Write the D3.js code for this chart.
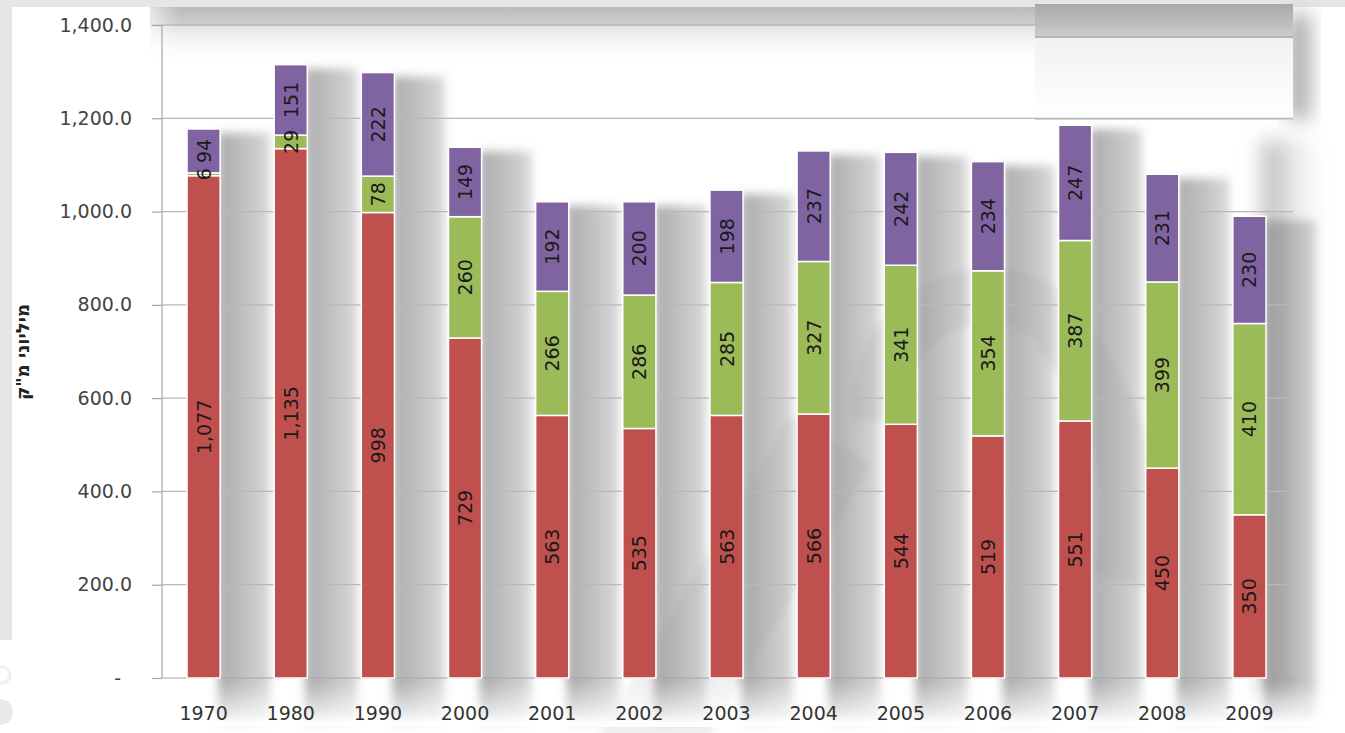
<!DOCTYPE html>
<html>
<head>
<meta charset="utf-8">
<script src="https://cdn.jsdelivr.net/npm/d3@7"></script>
<style>
  html, body { margin: 0; padding: 0; background: #ffffff; }
  svg { display: block; }
</style>
</head>
<body>
<svg id="chart" width="1345" height="733"></svg>
<script>
// Water sources, million cubic metres per year
const years  = ["1970","1980","1990","2000","2001","2002","2003","2004","2005","2006","2007","2008","2009"];
const fresh  = [1077, 1135, 998, 729, 563, 535, 563, 566, 544, 519, 551, 450, 350];
const marginal = [6, 29, 78, 260, 266, 286, 285, 327, 341, 354, 387, 399, 410];
const brackish = [94, 151, 222, 149, 192, 200, 198, 237, 242, 234, 247, 231, 230];
const yTicks = [0, 200, 400, 600, 800, 1000, 1200, 1400];
const yTitle = "מיליוני מ\"ק";

const seriesKeys = ["fresh", "marginal", "brackish"];
const seriesColor = { fresh: "#c0504d", marginal: "#9bbb59", brackish: "#8064a2" };

const rows = years.map((y, i) => ({ year: y, fresh: fresh[i], marginal: marginal[i], brackish: brackish[i] }));
const stacked = d3.stack().keys(seriesKeys)(rows);

const svg = d3.select("#chart");
const W = 1345, H = 733;
const plot = { left: 162, right: 1293, top: 25, bottom: 678 };

const x = d3.scaleBand().domain(years).range([160, 1293]).paddingInner(0.62).paddingOuter(0.31);
const y = d3.scaleLinear().domain([0, 1400]).range([plot.bottom, plot.top]);

const defs = svg.append("defs");
const blur = (id, s) => defs.append("filter").attr("id", id)
  .attr("x", "-50%").attr("y", "-50%").attr("width", "200%").attr("height", "200%")
  .append("feGaussianBlur").attr("stdDeviation", s);
blur("blur5", 5); blur("blur10", 10); blur("blur16", 16); blur("blur3", 3);

const lg = (id, stops, vertical = true) => {
  const g = defs.append("linearGradient").attr("id", id)
    .attr("x1", 0).attr("y1", 0).attr("x2", vertical ? 0 : 1).attr("y2", vertical ? 1 : 0);
  stops.forEach(([o, c, a = 1]) => g.append("stop").attr("offset", o).attr("stop-color", c).attr("stop-opacity", a));
};
lg("topBand", [[0, "#b9b9b9"], [1, "#cfcfcf"]]);
lg("topFade", [[0, "#e0e0e0"], [1, "#ffffff", 0]]);
lg("legHead", [[0, "#a9a9a9"], [1, "#cbcbcb"]]);
lg("legBody", [[0, "#ececec"], [1, "#ffffff"]]);
lg("bandIn", [[0, "#ffffff", 1], [1, "#ffffff", 0]], false);
lg("colShadow", [[0, "#8a8a8a", 0.72], [0.45, "#8a8a8a", 0.55], [1, "#8a8a8a", 0.33]], false);
lg("edgeShadow", [[0, "#9a9a9a", 0.8], [1, "#ffffff", 0]], false);
lg("footFade", [[0, "#ffffff", 0], [1, "#ffffff", 1]]);

// page frame
svg.append("rect").attr("width", W).attr("height", H).attr("fill", "#ffffff");

// soft decorative watermark
const wm = svg.append("g").attr("filter", "url(#blur3)").attr("fill", "none").attr("stroke", "#000").attr("stroke-opacity", 0.06);
wm.append("path").attr("d", "M 640 760 L 830 440").attr("stroke-width", 95);
wm.append("path").attr("d", "M 880 420 C 870 300 1010 260 1060 330 C 1110 400 1150 480 1120 580").attr("stroke-width", 55);

// frame bands along the top and left
svg.append("rect").attr("x", 150).attr("y", 25).attr("width", 885).attr("height", 40).attr("fill", "url(#topFade)");
svg.append("rect").attr("x", 150).attr("y", 7).attr("width", 885).attr("height", 18).attr("fill", "url(#topBand)");
svg.append("line").attr("x1", 150).attr("x2", 1035).attr("y1", 25).attr("y2", 25).attr("stroke", "#c2c2c2").attr("stroke-width", 2);
svg.append("rect").attr("x", 130).attr("y", 7).attr("width", 50).attr("height", 60).attr("fill", "url(#bandIn)");
svg.append("rect").attr("x", 0).attr("y", 0).attr("width", W).attr("height", 7).attr("fill", "#e6e6e6");
svg.append("rect").attr("x", 0).attr("y", 0).attr("width", 12).attr("height", 640).attr("fill", "#e6e6e6");
svg.append("circle").attr("cx", 0).attr("cy", 712).attr("r", 13).attr("fill", "#e8e8e8");
svg.append("circle").attr("cx", 2).attr("cy", 675).attr("r", 8).attr("fill", "none").attr("stroke", "#efefef").attr("stroke-width", 3);

// wide shadow along the right edge of the plot
svg.append("rect").attr("x", 1262).attr("y", 140).attr("width", 70).attr("height", 560)
  .attr("fill", "url(#edgeShadow)").attr("filter", "url(#blur10)");

// shadows cast by each column
const shadow = svg.append("g").attr("filter", "url(#blur5)");
stacked[stacked.length - 1].forEach((d, i) => {
  const bx = x(years[i]), bw = x.bandwidth();
  shadow.append("rect")
    .attr("x", bx + bw - 2).attr("y", y(d[1]) + 4)
    .attr("width", x.step() - bw - 2).attr("height", y(0) - y(d[1]) + 40)
    .attr("fill", "url(#colShadow)");
});
// shadows fade out below the baseline
svg.append("rect").attr("x", plot.left).attr("y", plot.bottom + 4).attr("width", plot.right - plot.left + 60).attr("height", 45)
  .attr("fill", "url(#footFade)");

// legend panel
svg.append("rect").attr("x", 1288).attr("y", 14).attr("width", 22).attr("height", 105).attr("fill", "#a8a8a8").attr("filter", "url(#blur10)");
svg.append("rect").attr("x", 1035).attr("y", 4).attr("width", 258).attr("height", 115).attr("fill", "url(#legBody)");
svg.append("rect").attr("x", 1035).attr("y", 4).attr("width", 258).attr("height", 32).attr("fill", "url(#legHead)");
svg.append("line").attr("x1", 1035).attr("x2", 1293).attr("y1", 37).attr("y2", 37).attr("stroke", "#b4b4b4").attr("stroke-width", 2);
svg.append("line").attr("x1", 1035).attr("x2", 1293).attr("y1", 119.5).attr("y2", 119.5).attr("stroke", "#d4d4d4");

// gridlines
svg.append("g").selectAll("line").data(yTicks.filter(t => t > 0)).join("line")
  .attr("x1", plot.left).attr("x2", plot.right)
  .attr("y1", d => y(d)).attr("y2", d => y(d))
  .attr("stroke", "#b8b8b8").attr("stroke-width", 1.2);

// y axis
const yAxis = svg.append("g").attr("transform", `translate(${plot.left},0)`)
  .call(d3.axisLeft(y).tickValues(yTicks).tickSize(10).tickPadding(20)
    .tickFormat(d => d === 0 ? "-" : d3.format(",.1f")(d)));
yAxis.select(".domain").attr("stroke", "#a6a6a6").attr("stroke-width", 1.2).attr("d", `M0,${plot.top}V${plot.bottom}`);
yAxis.selectAll(".tick line").attr("stroke", "#a6a6a6").attr("stroke-width", 1.2);
yAxis.selectAll(".tick text")
  .attr("font-family", "DejaVu Sans, sans-serif").attr("font-size", 19).attr("fill", "#444")
  .attr("x", d => d === 0 ? -41 : -30);

// x axis
const xAxis = svg.append("g").attr("transform", `translate(0,${plot.bottom})`)
  .call(d3.axisBottom(x).tickSize(0).tickPadding(29));
xAxis.select(".domain").attr("stroke", "#a6a6a6").attr("stroke-width", 1.2).attr("d", `M${plot.left},0H${plot.right}`);
xAxis.selectAll(".tick text")
  .attr("font-family", "DejaVu Sans, sans-serif").attr("font-size", 19).attr("fill", "#333");

// y axis title
svg.append("text")
  .attr("transform", "translate(22,352) rotate(-90)")
  .attr("text-anchor", "middle").attr("dominant-baseline", "central")
  .attr("font-family", "DejaVu Sans, sans-serif").attr("font-weight", "bold").attr("font-size", 18)
  .attr("fill", "#222").text(yTitle);

// stacked columns
const layers = svg.append("g").selectAll("g").data(stacked).join("g")
  .attr("fill", s => seriesColor[s.key]);
layers.selectAll("rect").data(s => s.map((d, i) => ({ d, year: years[i] }))).join("rect")
  .attr("x", o => x(o.year)).attr("width", x.bandwidth())
  .attr("y", o => y(o.d[1])).attr("height", o => y(o.d[0]) - y(o.d[1]))
  .attr("stroke", "#ffffff").attr("stroke-width", 1.5);

// value labels inside each segment
const labels = svg.append("g");
stacked.forEach(s => {
  s.forEach((d, i) => {
    const v = d[1] - d[0];
    const cx = x(years[i]) + x.bandwidth() / 2;
    const cy = (y(d[0]) + y(d[1])) / 2;
    labels.append("text")
      .attr("transform", `translate(${cx},${cy}) rotate(-90)`)
      .attr("text-anchor", "middle").attr("dominant-baseline", "central")
      .attr("font-family", "DejaVu Sans, sans-serif").attr("font-size", 19)
      .attr("fill", "#1a1a1a").text(d3.format(",")(v));
  });
});
</script>
</body>
</html>
